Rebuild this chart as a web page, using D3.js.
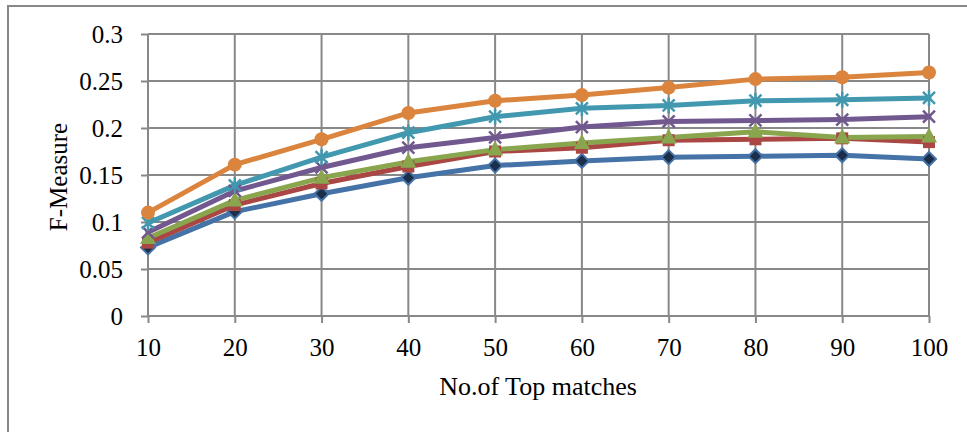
<!DOCTYPE html>
<html><head><meta charset="utf-8">
<script src="https://cdn.jsdelivr.net/npm/d3@7"></script>
<style>body{margin:0;background:#fff}svg{display:block}</style>
</head><body>
<svg id="c" width="967" height="432"></svg>
<script>
const xValues = [10,20,30,40,50,60,70,80,90,100];
const yTicks = [0,0.05,0.1,0.15,0.2,0.25,0.3];
const yTickLabels = ["0","0.05","0.1","0.15","0.2","0.25","0.3"];
const seriesBlue   = [0.073,0.111,0.130,0.147,0.160,0.165,0.169,0.170,0.171,0.167];
const seriesRed    = [0.078,0.118,0.141,0.159,0.175,0.179,0.187,0.188,0.189,0.185];
const seriesGreen  = [0.083,0.123,0.147,0.164,0.177,0.184,0.190,0.196,0.190,0.191];
const seriesPurple = [0.089,0.133,0.158,0.179,0.190,0.201,0.207,0.208,0.209,0.212];
const seriesTeal   = [0.099,0.139,0.169,0.195,0.212,0.221,0.224,0.229,0.230,0.232];
const seriesOrange = [0.110,0.161,0.188,0.216,0.229,0.235,0.243,0.252,0.254,0.259];
const xTitle = "No.of Top matches";
const yTitle = "F-Measure";

const series = [
  {v: seriesBlue,   color:"#4572A7", marker:"diamond"},
  {v: seriesRed,    color:"#AA4643", marker:"square"},
  {v: seriesGreen,  color:"#89A54E", marker:"triangle"},
  {v: seriesPurple, color:"#71588F", marker:"x"},
  {v: seriesTeal,   color:"#4198AF", marker:"star"},
  {v: seriesOrange, color:"#DB843D", marker:"circle"}
];

const svg = d3.select("#c");
const font = "'Liberation Serif','Times New Roman',serif";
const fs = 25;
svg.append("rect").attr("x",8).attr("y",6).attr("width",980).attr("height",460)
  .attr("fill","#fff").attr("stroke","#888").attr("stroke-width",2);

const x = d3.scaleLinear().domain([10,100]).range([148,929]);
const y = d3.scaleLinear().domain([0,0.3]).range([316,34]);
const grid = "#888";

svg.append("g").selectAll("line").data(yTicks.slice(1)).join("line")
  .attr("x1",148).attr("x2",929).attr("y1",d=>y(d)).attr("y2",d=>y(d))
  .attr("stroke",grid).attr("stroke-width",2);
svg.append("g").selectAll("line").data(xValues.slice(1)).join("line")
  .attr("x1",d=>x(d)).attr("x2",d=>x(d)).attr("y1",y(0.3)).attr("y2",y(0))
  .attr("stroke",grid).attr("stroke-width",2);

const yAxis = d3.axisLeft(y).tickValues(yTicks).tickFormat((d,i)=>yTickLabels[i]).tickSize(7).tickPadding(18);
const gy = svg.append("g").attr("transform","translate(148,0)").call(yAxis);
const xAxis = d3.axisBottom(x).tickValues(xValues).tickSize(7).tickPadding(15);
const gx = svg.append("g").attr("transform","translate(0,316)").call(xAxis);
[gx,gy].forEach(g=>{
  g.attr("font-family",font).attr("font-size",fs);
  g.selectAll("path.domain").attr("stroke",grid).attr("stroke-width",2);
  g.selectAll(".tick line").attr("stroke",grid).attr("stroke-width",2);
  g.selectAll("text").attr("font-family",font).attr("font-size",fs).attr("fill","#000");
});
gy.select("path.domain").attr("d","M0,34V316");
gx.select("path.domain").attr("d","M148,0H929");

svg.append("text").attr("x",538).attr("y",395).attr("text-anchor","middle")
  .attr("font-family",font).attr("font-size",26).text(xTitle);
svg.append("text").attr("transform","translate(67,177) rotate(-90)").attr("text-anchor","middle")
  .attr("font-family",font).attr("font-size",fs).text(yTitle);

const line = d3.line().x((d,i)=>x(xValues[i])).y(d=>y(d));
series.forEach(s=>{
  svg.append("path").attr("d",line(s.v)).attr("fill","none").attr("stroke",s.color)
    .attr("stroke-width",5).attr("stroke-linejoin","round").attr("stroke-linecap","round");
});
series.forEach(s=>{
  const g = svg.append("g");
  s.v.forEach((d,i)=>{
    const cx = x(xValues[i]), cy = y(d);
    if (s.marker==="diamond") {
      g.append("path").attr("d",`M${cx},${cy-7}L${cx+7},${cy}L${cx},${cy+7}L${cx-7},${cy}Z`)
        .attr("fill","#1c2f4a").attr("stroke",s.color).attr("stroke-width",2);
    } else if (s.marker==="square") {
      g.append("rect").attr("x",cx-6).attr("y",cy-6).attr("width",12).attr("height",12)
        .attr("fill",s.color);
    } else if (s.marker==="triangle") {
      g.append("path").attr("d",`M${cx},${cy-9}L${cx+8},${cy+6}L${cx-8},${cy+6}Z`).attr("fill",s.color);
    } else if (s.marker==="x") {
      g.append("path").attr("d",`M${cx-6},${cy-6}L${cx+6},${cy+6}M${cx+6},${cy-6}L${cx-6},${cy+6}`)
        .attr("stroke",s.color).attr("stroke-width",2.5);
    } else if (s.marker==="star") {
      g.append("path").attr("d",`M${cx-6},${cy-6}L${cx+6},${cy+6}M${cx+6},${cy-6}L${cx-6},${cy+6}M${cx},${cy-8}L${cx},${cy+8}`)
        .attr("stroke",s.color).attr("stroke-width",2.5);
    } else {
      g.append("circle").attr("cx",cx).attr("cy",cy).attr("r",7).attr("fill",s.color);
    }
  });
});
</script>
</body></html>
